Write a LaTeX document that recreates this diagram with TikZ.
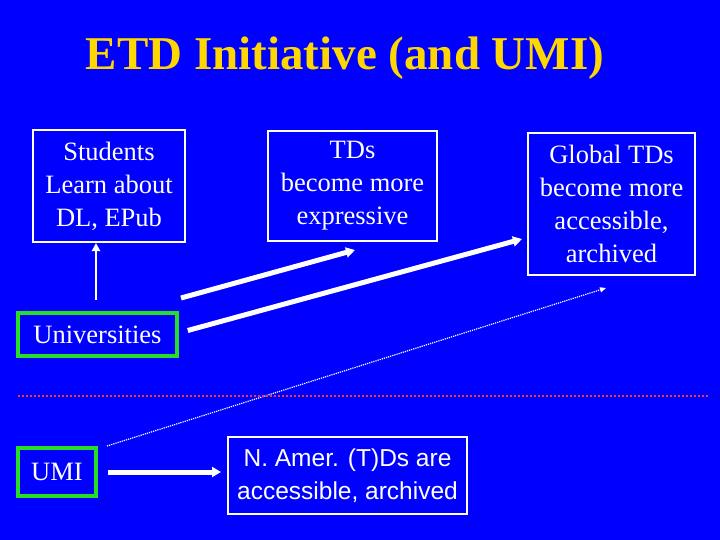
\documentclass[tikz,border=0pt]{standalone}
\usepackage{fontspec}
\setmainfont{Liberation Serif}
\newfontfamily\arialfont{Liberation Sans}
\usetikzlibrary{arrows.meta}
\definecolor{slideblue}{RGB}{0,0,255}
\definecolor{titleyellow}{RGB}{255,215,0}
\definecolor{boxgreen}{RGB}{40,220,40}
\tikzset{%
    % boxes on the slide
    box/.style   = {draw=white, line width=2pt, rectangle, text=white,
    align=center, font=\fontsize{26.5}{33}\selectfont, inner sep=0pt},
    unibox/.style = {box, draw=boxgreen, line width=3.5pt},
    % arrows
    fat/.style   = {white, line width=5pt, -{Triangle[length=9pt,width=10pt]}},
    thin/.style  = {white, line width=2pt, -{Triangle[length=8pt,width=8pt]}},
    dots/.style  = {white, line width=1.2pt, densely dotted, -{Triangle[length=6pt,width=5pt]}}
}
\begin{document}
\begin{tikzpicture}[x=1pt,y=-1pt]
	\fill[slideblue] (0,0) rectangle (720,540);
	\useasboundingbox (0,0) rectangle (720,540);
	\node[titleyellow, font=\fontsize{47}{50}\selectfont\bfseries] (title) at (345,58) {ETD Initiative (and UMI)};
	
	\node[box, minimum width=152, minimum height=112] (students) at (109,186) {Students\\Learn about\\DL, EPub};
	\node[box, minimum width=169, minimum height=110] (tds) at (352.5,186) {TDs\\become more\\expressive};
	\node[box, minimum width=167, minimum height=142] (global) at (611.5,204) {Global TDs\\become more\\accessible,\\archived};
	\node[unibox, minimum width=159, minimum height=43] (univ) at (97.5,334.5) {Universities};
	\node[unibox, minimum width=78, minimum height=48] (umi) at (57,472) {UMI};
	\node[box, minimum width=239, minimum height=77, font=\arialfont\fontsize{24.5}{33}\selectfont] (namer) at (347.5,475.5) {N. Amer. (T)Ds are\\accessible, archived};
	
	\coordinate (upA) at (96,300);
	\coordinate (upB) at (181,298);
	\coordinate (tdsend) at (355,250);
	\coordinate (globend) at (522,239);
	\coordinate (dotA) at (107,446);
	\coordinate (dotB) at (606,288);
	\coordinate (umiA) at (108,472);
	\draw[thin] (upA) -- (students.south -| upA);
	\draw[fat] (upB) -- (tdsend);
	\draw[fat] (univ.east) ++(9,-4) -- (globend);
	\draw[dots] (dotA) -- (dotB);
	\draw[fat] (umiA) -- ([xshift=-6pt]namer.west |- umiA);
	
	\draw[red!80!white, line width=2pt, dotted] (18,396) -- (708,396);
\end{tikzpicture}
\end{document}
